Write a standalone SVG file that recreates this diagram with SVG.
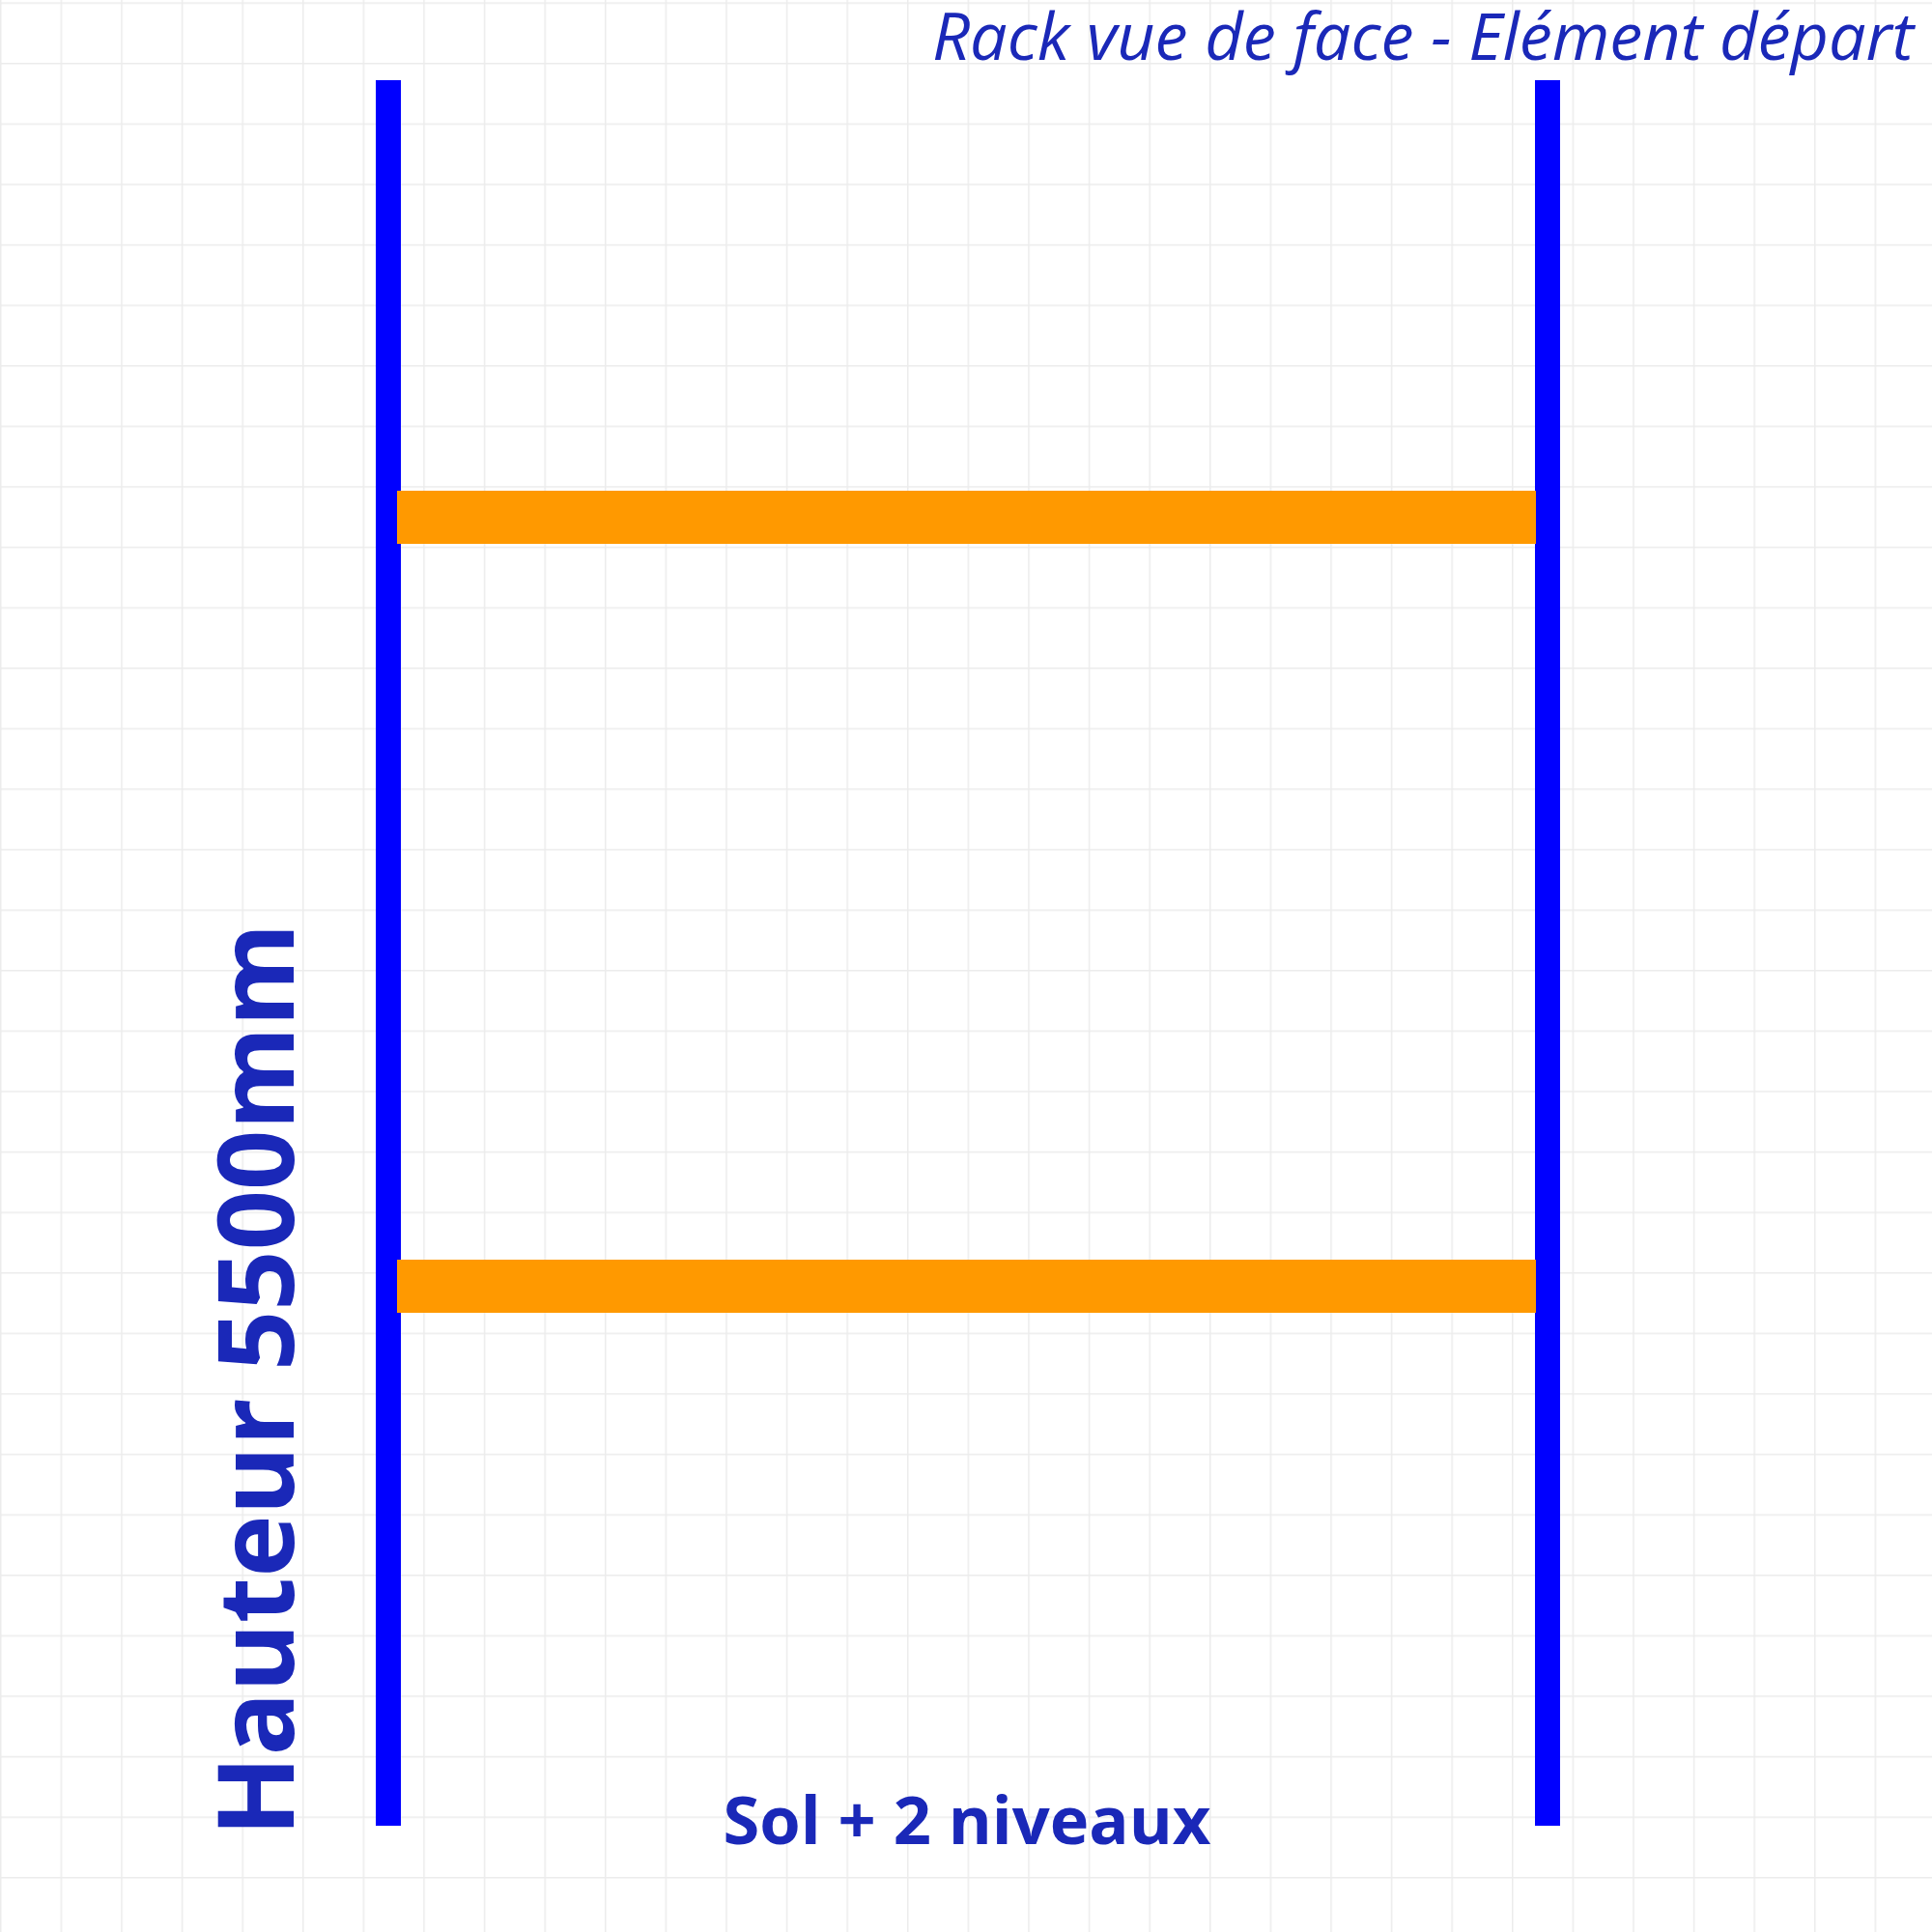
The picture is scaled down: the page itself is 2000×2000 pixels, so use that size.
<svg xmlns="http://www.w3.org/2000/svg" width="2000" height="2000" viewBox="0 0 2000 2000">
<defs>
<pattern id="grid" x="0" y="2.4" width="62.6" height="62.6" patternUnits="userSpaceOnUse">
<path d="M0 0H62.6M0 0V62.6" fill="none" stroke="#ececec" stroke-width="3"/>
</pattern>
</defs>
<style>
.upright{fill:#0000ff}
.beam{fill:#ff9900}
.lbl{fill:#1a28b8;font-family:"Open Sans","Noto Sans",sans-serif}
</style>
<rect width="2000" height="2000" fill="#ffffff"/>
<rect width="2000" height="2000" fill="url(#grid)"/>
<g id="upright-left"><rect class="upright" x="389" y="83" width="26" height="1807"/></g>
<g id="upright-right"><rect class="upright" x="1589" y="83" width="26" height="1807"/></g>
<g id="beam-top"><rect class="beam" x="411" y="508" width="1179" height="55"/></g>
<g id="beam-bottom"><rect class="beam" x="411" y="1304" width="1179" height="55"/></g>
<g id="title"><text class="lbl" x="1981" y="62" font-size="68.3" font-style="italic" text-anchor="end">Rack vue de face - Elément départ</text></g>
<g id="height-label"><text class="lbl" transform="translate(304,1901) rotate(-90)" font-size="109" font-weight="bold">Hauteur 5500mm</text></g>
<g id="levels-label"><text class="lbl" x="1001" y="1909" font-size="68.6" font-weight="bold" text-anchor="middle">Sol + 2 niveaux</text></g>
<g id="connectors"></g>
</svg>
